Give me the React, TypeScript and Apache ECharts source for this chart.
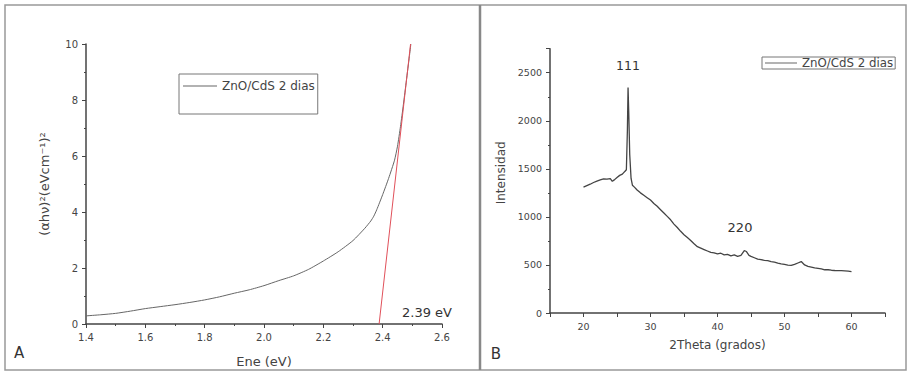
import React, { useEffect, useRef } from "react";
import * as echarts from "echarts";

// Panel A: Tauc plot
const energyEv = [1.40, 1.45, 1.50, 1.55, 1.60, 1.65, 1.70, 1.75, 1.80, 1.85, 1.90, 1.95, 2.00, 2.05, 2.10, 2.15, 2.20, 2.25, 2.30, 2.34, 2.36, 2.37, 2.38, 2.40, 2.42, 2.44, 2.45, 2.46, 2.47, 2.48, 2.49, 2.495];
const taucValues = [0.29, 0.33, 0.38, 0.46, 0.55, 0.62, 0.69, 0.77, 0.86, 0.97, 1.10, 1.22, 1.37, 1.55, 1.72, 1.95, 2.25, 2.58, 2.98, 3.42, 3.68, 3.85, 4.08, 4.62, 5.20, 5.85, 6.35, 7.05, 7.85, 8.70, 9.55, 10.0];
const fitLineX = [2.388, 2.494];
const fitLineY = [0, 10];

// Panel B: XRD
const twoTheta = [20.0, 20.5, 21.0, 21.5, 22.0, 22.5, 23.0, 23.5, 24.0, 24.3, 24.6, 25.0, 25.4, 25.8, 26.0, 26.2, 26.4, 26.55, 26.65, 26.75, 26.9, 27.1, 27.3, 27.6, 28.0, 28.5, 29.0, 29.5, 30.0, 30.5, 31.0, 31.5, 32.0, 32.5, 33.0, 33.5, 34.0, 34.5, 35.0, 35.5, 36.0, 36.5, 37.0, 37.5, 38.0, 38.5, 39.0, 39.5, 40.0, 40.5, 41.0, 41.5, 42.0, 42.5, 43.0, 43.5, 44.0, 44.3, 44.7, 45.0, 45.5, 46.0, 46.5, 47.0, 47.5, 48.0, 48.5, 49.0, 49.5, 50.0, 50.5, 51.0, 51.5, 52.0, 52.5, 53.0, 53.5, 54.0, 54.5, 55.0, 55.5, 56.0, 56.5, 57.0, 57.5, 58.0, 58.5, 59.0, 59.5, 60.0];
const intensity = [1310, 1325, 1340, 1358, 1372, 1385, 1395, 1392, 1398, 1370, 1385, 1410, 1432, 1445, 1460, 1475, 1490, 1900, 2345, 2100, 1650, 1400, 1330, 1310, 1280, 1250, 1225, 1200, 1175, 1140, 1110, 1075, 1040, 1005, 970, 925, 890, 850, 815, 785, 755, 720, 690, 675, 660, 645, 630, 625, 615, 622, 605, 610, 595, 605, 590, 600, 650, 640, 600, 590, 575, 560, 555, 548, 545, 535, 530, 520, 512, 505, 498, 495, 505, 520, 535, 500, 485, 478, 470, 465, 460, 450, 450, 445, 442, 440, 440, 438, 435, 430];

const seriesName = "ZnO/CdS 2 dias";
const FONT = "DejaVu Sans";
const TXT = "#444";

export default function App() {
  const ref = useRef<HTMLDivElement>(null);
  useEffect(() => {
    document.body.style.margin = "0";
    const chart = echarts.init(ref.current!, null, { renderer: "svg" });
    const axisLine = { show: true, lineStyle: { color: "#444", width: 1.5 } };
    const axisTick = { show: true, inside: false, length: 4, lineStyle: { color: "#444", width: 1 } };
    const minorTick = { show: true, splitNumber: 2, length: 2, lineStyle: { color: "#444", width: 1 } };
    chart.setOption({
      animation: false,
      backgroundColor: "#fff",
      textStyle: { fontFamily: FONT },
      grid: [
        { left: 86, top: 44, width: 356, height: 280 },
        { left: 550, top: 48.7, width: 335, height: 264.3 },
      ],
      xAxis: [
        {
          gridIndex: 0, type: "value", min: 1.4, max: 2.6, interval: 0.2,
          axisLine, axisTick, minorTick, splitLine: { show: false },
          axisLabel: { color: TXT, fontSize: 10, fontFamily: FONT, margin: 8, formatter: (v: number) => v.toFixed(1) },
          name: "Ene (eV)", nameLocation: "middle", nameGap: 31,
          nameTextStyle: { color: TXT, fontSize: 13, fontFamily: FONT },
        },
        {
          gridIndex: 1, type: "value", min: 15, max: 65, interval: 5,
          axisLine, axisTick, splitLine: { show: false },
          axisLabel: { color: TXT, fontSize: 9.5, fontFamily: FONT, margin: 8, formatter: (v: number) => (Math.round(v) % 10 === 0 ? String(Math.round(v)) : "") },
          name: "2Theta (grados)", nameLocation: "middle", nameGap: 26,
          nameTextStyle: { color: TXT, fontSize: 12, fontFamily: FONT },
        },
      ],
      yAxis: [
        {
          gridIndex: 0, type: "value", min: 0, max: 10, interval: 2,
          axisLine, axisTick, minorTick, splitLine: { show: false },
          axisLabel: { color: TXT, fontSize: 10, fontFamily: FONT, margin: 8 },
          name: "(αhν)²(eVcm⁻¹)²", nameLocation: "middle", nameGap: 35,
          nameTextStyle: { color: TXT, fontSize: 13, fontFamily: FONT },
        },
        {
          gridIndex: 1, type: "value", min: 0, max: 2750, interval: 500,
          axisLine, axisTick, minorTick, splitLine: { show: false },
          axisLabel: { color: TXT, fontSize: 9.5, fontFamily: FONT, margin: 8, formatter: (v: number) => (v % 500 === 0 ? String(v) : "") },
          name: "Intensidad", nameLocation: "middle", nameGap: 43,
          nameTextStyle: { color: TXT, fontSize: 12, fontFamily: FONT, padding: [0, 0, 0, 16] },
        },
      ],
      legend: [
        {
          data: [seriesName], left: 179, top: 74, orient: "horizontal", icon: "rect",
          padding: [5, 3, 21, 4], itemWidth: 34, itemHeight: 1, itemGap: 5,
          itemStyle: { color: "#666" },
          borderColor: "#777", borderWidth: 1, selectedMode: false,
          textStyle: { color: TXT, fontSize: 12, fontFamily: FONT, lineHeight: 14 },
        },
        {
          data: [seriesName], left: 762, top: 57, orient: "horizontal", icon: "rect",
          padding: [0, 2, 0, 3], itemWidth: 32, itemHeight: 1, itemGap: 5,
          itemStyle: { color: "#666" },
          borderColor: "#777", borderWidth: 1, selectedMode: false,
          textStyle: { color: TXT, fontSize: 11.8, fontFamily: FONT, lineHeight: 12 },
        },
      ],
      series: [
        {
          name: seriesName, type: "line", xAxisIndex: 0, yAxisIndex: 0, symbol: "none", smooth: 0.2,
          lineStyle: { color: "#666", width: 1 }, itemStyle: { color: "#666" },
          data: energyEv.map((x, i) => [x, taucValues[i]]),
        },
        {
          name: "fit", type: "line", xAxisIndex: 0, yAxisIndex: 0, symbol: "none",
          lineStyle: { color: "#e0505a", width: 1 }, itemStyle: { color: "#e0505a" },
          data: fitLineX.map((x, i) => [x, fitLineY[i]]),
        },
        {
          name: seriesName, type: "line", xAxisIndex: 1, yAxisIndex: 1, symbol: "none",
          lineStyle: { color: "#444", width: 1.3 }, itemStyle: { color: "#444" },
          data: twoTheta.map((x, i) => [x, intensity[i]]),
        },
      ],
      graphic: [
        { type: "rect", shape: { x: 5, y: 5, width: 901, height: 365 }, style: { fill: "none", stroke: "#999", lineWidth: 1.5 }, silent: true },
        { type: "line", shape: { x1: 480, y1: 5, x2: 480, y2: 370 }, style: { stroke: "#888", lineWidth: 2.5 }, silent: true },
        { type: "text", x: 19, y: 353, style: { text: "A", fontSize: 15, fontFamily: FONT, fill: "#333", textAlign: "center", textVerticalAlign: "middle" } },
        { type: "text", x: 496, y: 354, style: { text: "B", fontSize: 15, fontFamily: FONT, fill: "#333", textAlign: "center", textVerticalAlign: "middle" } },
        { type: "text", x: 427, y: 312, style: { text: "2.39 eV", fontSize: 13, fontFamily: FONT, fill: "#333", textAlign: "center", textVerticalAlign: "middle" } },
        { type: "text", x: 628, y: 65, style: { text: "111", fontSize: 12.5, fontFamily: FONT, fill: "#333", textAlign: "center", textVerticalAlign: "middle" } },
        { type: "text", x: 740, y: 227, style: { text: "220", fontSize: 13, fontFamily: FONT, fill: "#333", textAlign: "center", textVerticalAlign: "middle" } },
      ],
    });
    return () => chart.dispose();
  }, []);
  return <div ref={ref} style={{ position: "absolute", left: 0, top: 0, width: 909, height: 373, background: "#fff" }} />;
}
